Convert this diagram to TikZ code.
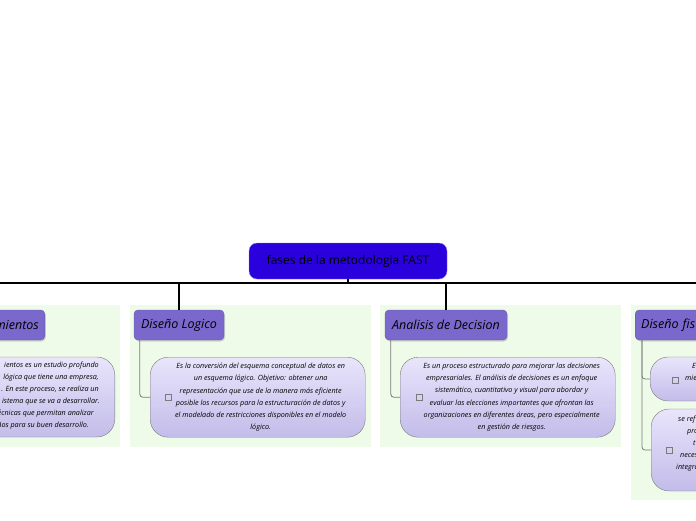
\documentclass[tikz,border=0pt]{standalone}
\usepackage{fontspec}
\setmainfont{Open Sans}
\usetikzlibrary{positioning, shadows}
\definecolor{fsRoot}{HTML}{2A00DD}
\definecolor{fsRootLine}{HTML}{8C80EA}
\definecolor{fsTitle}{HTML}{7B68CC}
\definecolor{fsPanel}{HTML}{EEFBE8}
\definecolor{fsBodyTop}{HTML}{E8E5FB}
\definecolor{fsBodyBot}{HTML}{C3BCEA}
\definecolor{fsLink}{HTML}{7A7A7A}
\tikzset{
  fs-root/.style={
    rectangle, rounded corners=8pt, fill=fsRoot, draw=fsRootLine,
    minimum width=198pt, minimum height=36pt, align=center,
    font=\fontsize{12}{14}\selectfont
  },
  fs-panel/.style={fill=fsPanel, draw=none},
  fs-title/.style={
    rectangle, rounded corners=4pt, fill=fsTitle, draw=fsTitle!85!black,
    minimum height=30pt, inner xsep=6pt,
    font=\fontsize{12.5}{14}\selectfont\itshape,
    drop shadow={shadow xshift=1pt, shadow yshift=-1.5pt, opacity=0.3}
  },
  fs-body/.style={
    rectangle, rounded corners=18pt, top color=fsBodyTop,
    bottom color=fsBodyBot, draw=fsLink, minimum width=215pt,
    minimum height=80pt, align=center,
    font=\fontsize{7.2}{12.2}\selectfont\itshape
  },
  fs-box/.style={
    rectangle, draw=fsLink, minimum size=6pt, inner sep=0pt
  },
  fs-cut/.style={
    inner sep=0pt, text height=5pt, text depth=1.5pt,
    font=\fontsize{7.2}{12.2}\selectfont\itshape
  },
  fs-trunk/.style={draw=black, line width=1.8pt},
  fs-drop/.style={draw=black, line width=1.2pt},
  fs-link/.style={draw=fsLink, line width=0.8pt, rounded corners=3pt},
}
\begin{document}
\begin{tikzpicture}[x=1pt, y=-1pt]
  \useasboundingbox (0,0) rectangle (696,520);
  \clip (0,0) rectangle (696,520);

  % panels
  \fill[fs-panel] (0,305)   rectangle (120,447);
  \fill[fs-panel] (130,305) rectangle (371,447);
  \fill[fs-panel] (380,305) rectangle (621,447);
  \fill[fs-panel] (631,305) rectangle (696,500);

  \node[fs-root] (root) at (348,261) {fases de la metodologia FAST};

  \node[fs-title, anchor=east, text width=86pt, align=right] (t1) at (45,325) {mientos};
  \node[fs-title, minimum width=90pt]  (t2) at (179,325) {Diseño Logico};
  \node[fs-title, minimum width=122pt] (t3) at (446,325) {Analisis de Decision};
  \node[fs-title, anchor=west, text width=86pt, align=left] (t4) at (635,325) {Diseño fis};

  % bodies
  \node[fs-body, anchor=east] (b1) at (115,397) {};
  \node[fs-body, anchor=north west] (b2) at (150,357)
    {\hspace*{6pt}Es la conversión del esquema conceptual de datos en\\
     \hspace*{6pt}un esquema lógico. Objetivo: obtener una\\
     \hspace*{6pt}representación que use de la manera más eficiente\\
     \hspace*{6pt}posible los recursos para la estructuración de datos y\\
     \hspace*{6pt}el modelado de restricciones disponibles en el modelo\\
     \hspace*{6pt}lógico.};
  \node[fs-body, anchor=north west] (b3) at (400,357)
    {\hspace*{8pt}Es un proceso estructurado para mejorar las decisiones\\
     \hspace*{8pt}empresariales. El análisis de decisiones es un enfoque\\
     \hspace*{8pt}sistemático, cuantitativo y visual para abordar y\\
     \hspace*{8pt}evaluar las elecciones importantes que afrontan las\\
     \hspace*{8pt}organizaciones en diferentes áreas, pero especialmente\\
     \hspace*{8pt}en gestión de riesgos.};
  \node[fs-body, anchor=west, minimum height=44pt] (b4a) at (650,379) {};
  \node[fs-body, anchor=west, minimum height=82pt] (b4b) at (651,450) {};

  % cut-off text
  \foreach \y/\e/\t [count=\i] in {
      366/99/{ientos es un estudio profundo},
      378/99/{lógica que tiene una empresa,},
      390/99/{. En este proceso, se realiza un},
      402/100/{istema que se va a desarrollar.},
      414/94/{écnicas que permitan analizar},
      426/89/{ños para su buen desarrollo.}}
    \node[fs-cut, anchor=east] (c1\i) at (\e,\y) {\t};
  \foreach \x/\y/\t [count=\i] in {
      692/367/E, 685/379/mie,
      678/420/se ref, 687/432/pro, 693/444/t,
      680/456/neces, 676/468/integra}
    \node[fs-cut, anchor=west] (c4\i) at (\x,\y) {\t};

  % check boxes
  \node[fs-box] (k2)  at (168,397) {};
  \node[fs-box] (k3)  at (419,397) {};
  \node[fs-box] (k4a) at (675,380) {};
  \node[fs-box] (k4b) at (669,450) {};

  % connectors
  \coordinate (trunkL) at (0,283);
  \coordinate (trunkR) at (696,283);
  \draw[fs-trunk] (trunkL) -- (trunkR);
  \draw[fs-drop] (root.south) -- (root.south |- trunkL);
  \draw[fs-drop] (t2.north) -- (t2.north |- trunkL);
  \draw[fs-drop] (t3.north) -- (t3.north |- trunkL);
  \draw[fs-link] ([xshift=6pt]t2.south west) |- (b2.west);
  \draw[fs-link] ([xshift=6pt]t3.south west) |- (b3.west);
  \draw[fs-link] ([xshift=7pt]t4.south west) |- (b4a.west);
  \draw[fs-link] ([xshift=7pt]t4.south west) |- (b4b.west);
\end{tikzpicture}
\end{document}
